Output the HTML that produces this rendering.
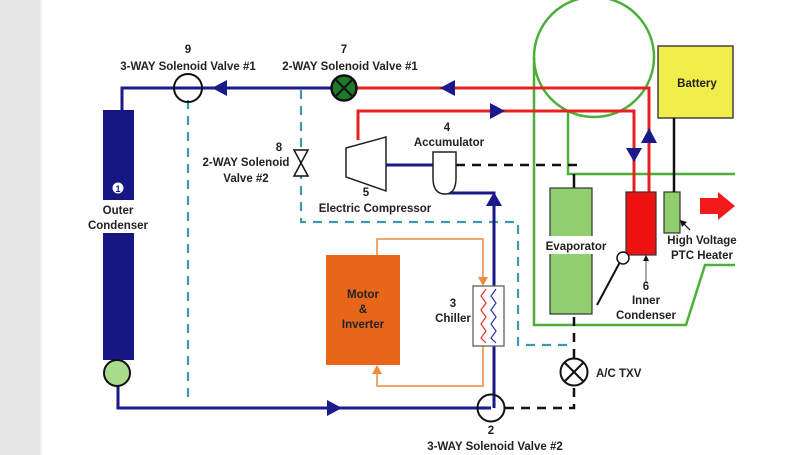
<!DOCTYPE html>
<html><head><meta charset="utf-8"><style>
html,body{margin:0;padding:0;width:809px;height:455px;overflow:hidden;background:#fff}
svg{display:block}
text{font-family:"Liberation Sans",Arial,sans-serif;font-weight:bold;font-size:11.5px;fill:#222}
</style></head><body>
<svg width="809" height="455" viewBox="0 0 809 455" xmlns="http://www.w3.org/2000/svg">
<rect x="0" y="0" width="40" height="455" fill="#e6e6e6"/>
<rect x="40" y="0" width="2" height="455" fill="#f2f2f2"/>

<!-- green duct -->
<g fill="none" stroke="#4caf3a" stroke-width="2.5">
<circle cx="594" cy="57" r="60"/>
<polyline points="534,57 534,325 686,325 705,265 735,265"/>
<polyline points="568,110 568,174 735,174"/>
</g>

<!-- dashed teal -->
<g fill="none" stroke="#3a9bb0" stroke-width="2.2" stroke-dasharray="9,7">
<line x1="188" y1="100" x2="188" y2="402"/>
<polyline points="301,90 301,222 518,222 518,345 574,345"/>
</g>

<!-- red lines -->
<g fill="none" stroke="#e82020" stroke-width="3">
<polyline points="356,88 649,88 649,192"/>
<polyline points="358,140 358,111 634,111 634,192"/>
</g>

<!-- blue lines -->
<g fill="none" stroke="#1a1a8a" stroke-width="3">
<polyline points="122,110 122,88 344,88"/>
<line x1="386" y1="165" x2="433" y2="165"/>
<polyline points="447,193 494,193 494,408"/>
<polyline points="118,385 118,408 491,408"/>
</g>

<!-- black dashed -->
<g fill="none" stroke="#111" stroke-width="2.5" stroke-dasharray="9,7">
<line x1="456" y1="165" x2="578" y2="165"/>
<polyline points="505,408 574,408 574,386"/>
<line x1="574" y1="358" x2="574" y2="316"/>
</g>
<line x1="574" y1="174" x2="574" y2="188" stroke="#111" stroke-width="2.5"/>

<!-- arrows -->
<g fill="#1a1a8a">
<polygon points="212,88 227,80 227,96"/>
<polygon points="440,88 455,80 455,96"/>
<polygon points="505,111 490,103 490,119"/>
<polygon points="494,192 486,206 502,206"/>
<polygon points="342,408 327,400 327,416"/>
<polygon points="634,162 626,148 642,148"/>
<polygon points="649,128 641,143 657,143"/>
</g>

<!-- outer condenser -->
<rect x="103" y="110" width="31" height="90" fill="#161682"/>
<rect x="103" y="233" width="31" height="127" fill="#161682"/>
<circle cx="118" cy="188" r="5.5" fill="#fff"/>
<text x="118" y="192" text-anchor="middle" style="font-size:9px;fill:#161682">1</text>
<circle cx="117" cy="373" r="13" fill="#a8dc8c" stroke="#111" stroke-width="2"/>
<text x="118" y="214" text-anchor="middle">Outer</text>
<text x="118" y="229" text-anchor="middle">Condenser</text>

<!-- valves -->
<circle cx="188" cy="88" r="14" fill="none" stroke="#111" stroke-width="2"/>
<circle cx="344" cy="88" r="12.5" fill="#1f7a2c" stroke="#111" stroke-width="2.5"/>
<line x1="336" y1="80" x2="352" y2="96" stroke="#111" stroke-width="2"/>
<line x1="352" y1="80" x2="336" y2="96" stroke="#111" stroke-width="2"/>
<polygon points="294,150 308,150 294,176 308,176" fill="#fff" stroke="#111" stroke-width="1.5"/>
<circle cx="491" cy="408" r="13.5" fill="none" stroke="#111" stroke-width="2"/>
<circle cx="574" cy="372" r="13.5" fill="#fff" stroke="#111" stroke-width="2"/>
<line x1="565" y1="363" x2="583" y2="381" stroke="#111" stroke-width="2"/>
<line x1="583" y1="363" x2="565" y2="381" stroke="#111" stroke-width="2"/>

<!-- compressor & accumulator -->
<polygon points="346,148 386,137 386,191 346,177" fill="#fff" stroke="#222" stroke-width="1.5"/>
<path d="M433,152 H456 V178 Q456,194 445,194 Q433,194 433,178 Z" fill="#fff" stroke="#222" stroke-width="1.5"/>

<!-- motor / chiller -->
<g fill="none" stroke="#ef8a3c" stroke-width="1.5">
<polyline points="377,255 377,239 483,239 483,280"/>
<polyline points="483,346 483,386 377,386 377,371"/>
</g>
<polygon points="483,286 478,277 488,277" fill="#ef8a3c"/>
<polygon points="377,365 372,374 382,374" fill="#ef8a3c"/>
<rect x="326" y="255" width="74" height="110" fill="#e8661a"/>
<text x="363" y="298" text-anchor="middle">Motor</text>
<text x="363" y="313" text-anchor="middle">&amp;</text>
<text x="363" y="328" text-anchor="middle">Inverter</text>
<rect x="473" y="286" width="31" height="60" fill="#fff" stroke="#555" stroke-width="1.2"/>
<polyline points="486,289 481,296 486,303 481,310 486,317 481,324 486,331 481,338 486,343" fill="none" stroke="#e83030" stroke-width="1.2"/>
<polyline points="496,289 491,296 496,303 491,310 496,317 491,324 496,331 491,338 496,343" fill="none" stroke="#3030b0" stroke-width="1.2"/>

<!-- evaporator etc -->
<rect x="550" y="188" width="42" height="126" fill="#92cf6e" stroke="#333" stroke-width="1.2"/>
<rect x="540" y="236" width="70" height="18" fill="#fff"/>
<text x="576" y="250" text-anchor="middle">Evaporator</text>
<rect x="626" y="192" width="30" height="63" fill="#ee1111" stroke="#333" stroke-width="1.2"/>
<rect x="664" y="192" width="16" height="41" fill="#92cf6e" stroke="#333" stroke-width="1.2"/>
<rect x="658" y="46" width="75" height="72" fill="#f1ee4c" stroke="#444" stroke-width="1.5"/>
<text x="697" y="87" text-anchor="middle">Battery</text>
<line x1="674" y1="118" x2="674" y2="192" stroke="#111" stroke-width="2.5"/>
<line x1="620" y1="262" x2="597" y2="305" stroke="#111" stroke-width="2"/>
<circle cx="623" cy="258" r="6" fill="#fff" stroke="#111" stroke-width="1.5"/>
<line x1="646" y1="283" x2="646" y2="258" stroke="#555" stroke-width="1"/>
<polygon points="646,255 643,261 649,261" fill="#111"/>
<line x1="690" y1="230" x2="682" y2="222" stroke="#111" stroke-width="1.2"/>
<polygon points="680,220 687,222 682,227" fill="#111"/>
<polygon points="700,198 718,198 718,192 735,206 718,220 718,214 700,214" fill="#f21a1a"/>

<!-- labels -->
<text x="188" y="53" text-anchor="middle">9</text>
<text x="188" y="70" text-anchor="middle">3-WAY Solenoid Valve  #1</text>
<text x="344" y="53" text-anchor="middle">7</text>
<text x="350" y="70" text-anchor="middle">2-WAY Solenoid Valve  #1</text>
<text x="279" y="151" text-anchor="middle">8</text>
<text x="246" y="166" text-anchor="middle">2-WAY Solenoid</text>
<text x="246" y="182" text-anchor="middle">Valve  #2</text>
<text x="447" y="131" text-anchor="middle">4</text>
<text x="449" y="146" text-anchor="middle">Accumulator</text>
<text x="366" y="196" text-anchor="middle">5</text>
<text x="375" y="212" text-anchor="middle">Electric Compressor</text>
<text x="453" y="307" text-anchor="middle">3</text>
<text x="453" y="322" text-anchor="middle">Chiller</text>
<text x="491" y="434" text-anchor="middle">2</text>
<text x="495" y="450" text-anchor="middle">3-WAY Solenoid Valve  #2</text>
<text x="596" y="377">A/C TXV</text>
<text x="646" y="290" text-anchor="middle">6</text>
<text x="646" y="304" text-anchor="middle">Inner</text>
<text x="646" y="319" text-anchor="middle">Condenser</text>
<text x="702" y="244" text-anchor="middle">High Voltage</text>
<text x="702" y="259" text-anchor="middle">PTC Heater</text>
</svg>
</body></html>
